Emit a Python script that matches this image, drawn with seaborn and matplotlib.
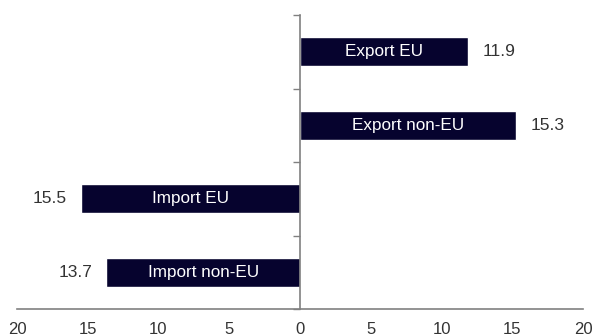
import matplotlib
matplotlib.use("Agg")
import matplotlib.pyplot as plt
import seaborn as sns
import pandas as pd

# data (imports drawn to the left as negatives)
categories = ["Export EU", "Export non-EU", "Import EU", "Import non-EU"]
amounts = [11.9, 15.3, 15.5, 13.7]
direction = [1, 1, -1, -1]
x_ticks = [-20, -15, -10, -5, 0, 5, 10, 15, 20]

df = pd.DataFrame({
    "category": categories,
    "value": [a * d for a, d in zip(amounts, direction)],
})

sns.set_style("white")
plt.rcParams["font.family"] = ["Liberation Sans", "DejaVu Sans"]

BAR = "#06032e"
GREY = "#808080"
TEXT = "#333333"

fig = plt.figure(figsize=(5.92, 3.35), dpi=100)
ax = fig.add_axes([17 / 592, 1 - 309 / 335, 566 / 592, 294 / 335])

sns.barplot(data=df, x="value", y="category", order=categories,
            orient="h", color=BAR, width=0.4, saturation=1, ax=ax)

ax.set_xlim(-20, 20)
ax.set_ylim(3.5, -0.5)
ax.set_xlabel("")
ax.set_ylabel("")

# x axis: absolute values, no tick marks
ax.set_xticks(x_ticks)
ax.set_xticklabels([str(abs(t)) for t in x_ticks])
ax.tick_params(axis="x", length=0, pad=9, labelsize=12, labelcolor=TEXT)

# y axis sits at zero with ticks between the categories
ax.spines["left"].set_position(("data", 0))
ax.set_yticks([-0.5, 0.5, 1.5, 2.5, 3.5])
ax.set_yticklabels([])
ax.tick_params(axis="y", length=5, width=1, color=GREY, direction="out", left=True)

for side in ["top", "right"]:
    ax.spines[side].set_visible(False)
for side in ["left", "bottom"]:
    ax.spines[side].set_color(GREY)
    ax.spines[side].set_linewidth(1.2)

# labels inside bars and values beyond the bar ends
for i, (cat, val) in enumerate(zip(df["category"], df["value"])):
    ax.text(val / 2, i, cat, ha="center", va="center", color="white", fontsize=12.3)
    off = 10 if val > 0 else -10
    ax.annotate(f"{abs(val):.1f}", xy=(val, i), xytext=(off, 0),
                textcoords="offset points", va="center",
                ha="left" if val > 0 else "right", color=TEXT, fontsize=12.5)

fig.savefig("out.png", dpi=100)
